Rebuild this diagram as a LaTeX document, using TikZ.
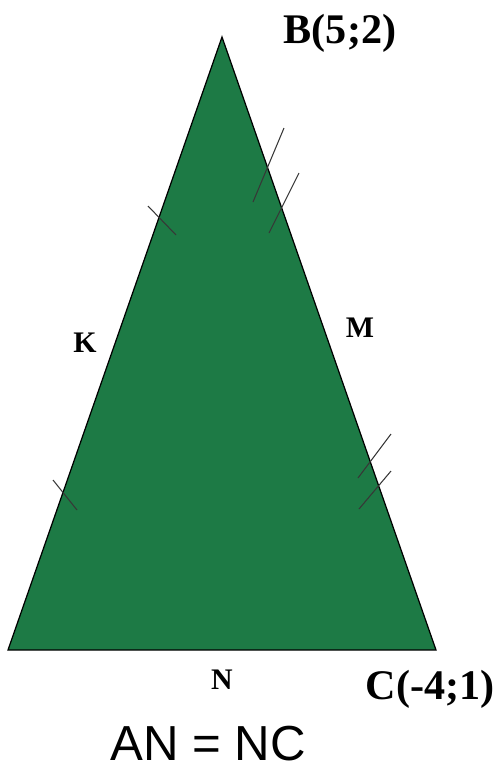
\documentclass[tikz,border=0pt]{standalone}
\usepackage{fontspec}
\setmainfont{Liberation Serif}
\newfontfamily\eqfont{Liberation Sans}
\usepackage{tikz}
\usetikzlibrary{calc,positioning}
\definecolor{trigreen}{RGB}{29,122,69}
\definecolor{tickgray}{RGB}{55,55,55}
\tikzset{
  side/.style={
    draw = black,
    fill = trigreen,
    line width = 0.7pt,
    line join = miter
  },
  tickmark/.style={
    draw = tickgray,
    line width = 0.6pt
  },
  vertexlabel/.style={
    font = \fontsize{24}{24}\selectfont\bfseries,
    inner sep = 0pt
  },
  midlabel/.style={
    font = \fontsize{17}{17}\selectfont\bfseries,
    inner sep = 0pt
  },
  eqlabel/.style={
    font = \eqfont\fontsize{28}{28}\selectfont,
    inner sep = 0pt
  }
}

\begin{document}
\begin{tikzpicture}[x=0.02cm, y=-0.02cm]
    \useasboundingbox (0,0) rectangle (500,771);
    % vertices
    \coordinate (A) at (8,650);
    \coordinate (B) at (222,37);
    \coordinate (C) at (436,650);
    \path[side] (A) -- (B) -- (C) -- cycle;

    % equal marks on AB
    \draw[tickmark] (148,206) -- (176,235);
    \draw[tickmark] (53,480) -- (77,510);
    % equal marks on BC
    \draw[tickmark] (253,202) -- (284,128);
    \draw[tickmark] (269,233) -- (299,173);
    \draw[tickmark] (358,478) -- (391,434);
    \draw[tickmark] (359,509) -- (391,471);

    \node[vertexlabel] (labB) at (340,33) {B(5;2)};
    \node[vertexlabel] (labC) at (430,689) {C(-4;1)};
    \node[midlabel] (labK) at (85,343) {K};
    \node[midlabel] (labM) at (360,328) {M};
    \node[midlabel] (labN) at (222,680) {N};
    \node[eqlabel] (eq) at (208,744) {AN = NC};
\end{tikzpicture}
\end{document}
